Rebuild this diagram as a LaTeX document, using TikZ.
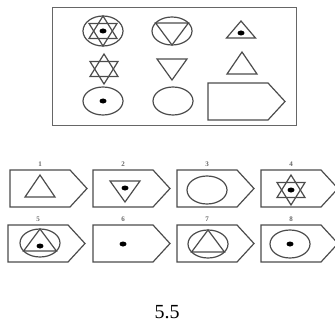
\documentclass[tikz,border=0pt]{standalone}
\usepackage{fontspec}
\setmainfont{Liberation Serif}
\begin{document}
\begin{tikzpicture}[x=1pt, y=-1pt,
    fig/.style={draw=black!70, line width=1.2pt},
    frame/.style={draw=black!60, line width=1pt},
    num/.style={font=\fontsize{7}{8}\selectfont\bfseries, text=black!60},
    tag/.pic={\draw[fig] (0,0) -- (60,0) -- (77,18.5) -- (60,37) -- (0,37) -- cycle;},
    oval/.pic={\draw[fig] (0,0) ellipse [x radius=20pt, y radius=14pt];},
    bigoval/.pic={\draw[fig] (0,0) ellipse [x radius=20pt, y radius=15pt];},
    dot/.pic={\fill (0,0) ellipse [x radius=3.5pt, y radius=2.5pt];},
    triup/.pic={\draw[fig] (-15,10) -- (15,10) -- (0,-12) -- cycle;},
    tridown/.pic={\draw[fig] (-15,-10) -- (15,-10) -- (0,11) -- cycle;},
    smalltri/.pic={\draw[fig] (-14.5,7) -- (14.5,7) -- (0,-10) -- cycle;},
    star/.pic={\draw[fig] (-14,7.5) -- (14,7.5) -- (0,-15) -- cycle;
               \draw[fig] (-14,-7.5) -- (14,-7.5) -- (0,15) -- cycle;},
    ovaltri/.pic={\draw[fig] (0,0) ellipse [x radius=20pt, y radius=14pt];
                  \draw[fig] (0,-14) -- (16.4,8) -- (-16.4,8) -- cycle;},
    ovaltridown/.pic={\draw[fig] (0,0) ellipse [x radius=20pt, y radius=14pt];
                      \draw[fig] (0,14) -- (16.4,-8) -- (-16.4,-8) -- cycle;}
]
\useasboundingbox (0,0) rectangle (334,334);

% question panel
\draw[frame] (52,8) rectangle (296,125);
\pic at (103,31) {bigoval};
\pic at (103,31) {star};
\pic at (103,31) {dot};
\pic at (172,31) {ovaltridown};
\pic at (241,31) {smalltri};
\pic at (241,33) {dot};
\pic at (104,69) {star};
\pic at (172,69) {tridown};
\pic at (242,64) {triup};
\pic at (103,101) {oval};
\pic at (103,101) {dot};
\pic at (173,101) {oval};
\pic at (208,83) {tag};

% answer options
\foreach \k/\x/\y in {1/10/170, 2/93/170, 3/177/170, 4/261/170,
                      5/8/225, 6/93/225, 7/177/225, 8/261/225}
{
  \pic at (\x,\y) {tag};
  \node[num] (n\k) at (\x+30,\y-6) {\k};
}
\pic at (40,187) {triup};
\pic at (125,191) {tridown};
\pic at (125,188) {dot};
\pic at (207,190) {oval};
\pic at (291,190) {star};
\pic at (291,190) {dot};
\pic at (40,243) {ovaltri};
\pic at (40,246) {dot};
\pic at (123,244) {dot};
\pic at (208,244) {ovaltri};
\pic at (290,244) {oval};
\pic at (290,244) {dot};

\node (cap) at (167,312) {\fontsize{20}{24}\selectfont 5.5};
\end{tikzpicture}
\end{document}
